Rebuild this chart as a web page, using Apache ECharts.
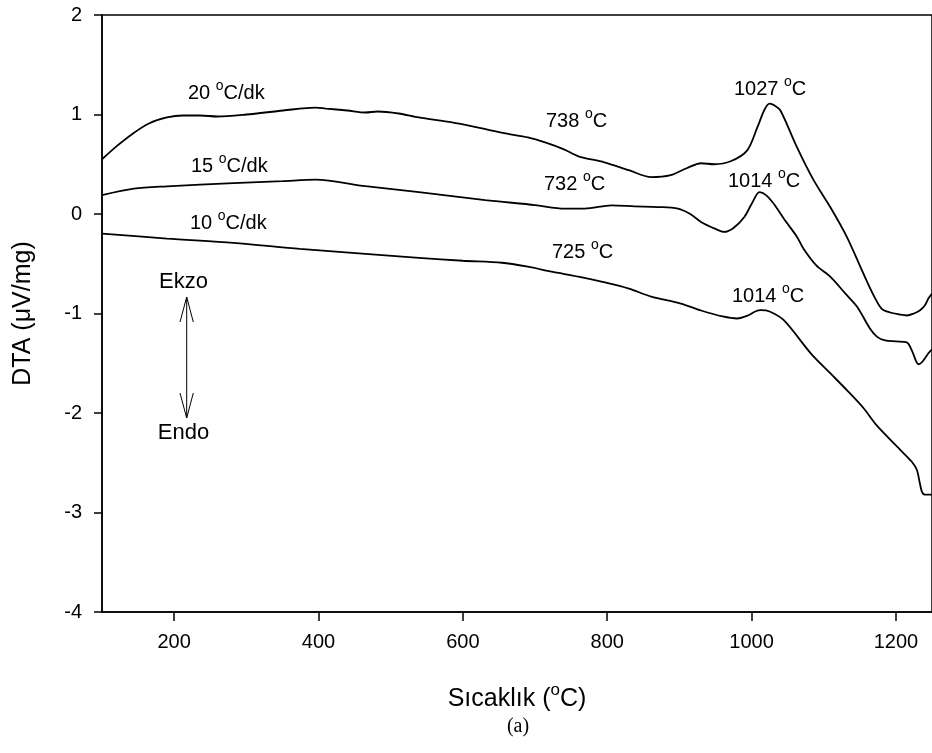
<!DOCTYPE html>
<html>
<head>
<meta charset="utf-8">
<script src="https://cdn.jsdelivr.net/npm/echarts@6/dist/echarts.min.js"></script>
<style>html,body{margin:0;padding:0;background:#fff;}#c{width:932px;height:753px;}</style>
</head>
<body>
<div id="c"></div>
<script>
// Temperature (°C) and DTA (µV/mg)
const t20 = [100,120,143,165,190,212,236,260,300,351,396,410,440,465,482,511,539,585,620,659,690,714,740,760,796,830,861,888,910,930,948,971,994,1008,1018,1025,1032,1040,1063,1086,1109,1132,1155,1170,1180,1192,1205,1215,1225,1233,1240,1245,1250];
const v20 = [0.55,0.68,0.81,0.91,0.97,0.99,0.99,0.98,1.00,1.04,1.07,1.06,1.04,1.02,1.03,1.01,0.97,0.92,0.87,0.81,0.77,0.72,0.65,0.58,0.52,0.44,0.37,0.39,0.46,0.51,0.50,0.53,0.64,0.87,1.05,1.11,1.09,1.04,0.67,0.34,0.07,-0.23,-0.60,-0.83,-0.95,-0.99,-1.01,-1.02,-1.00,-0.97,-0.92,-0.85,-0.80];

const t15 = [100,144,190,282,350,396,465,539,631,700,741,769,806,838,870,898,915,930,950,962,975,990,1000,1011,1020,1031,1045,1063,1072,1090,1109,1130,1146,1164,1174,1185,1200,1215,1222,1228,1231,1236,1245,1250];
const v15 = [0.19,0.255,0.278,0.31,0.33,0.345,0.28,0.22,0.14,0.09,0.054,0.054,0.087,0.077,0.07,0.054,0.0,-0.08,-0.15,-0.18,-0.14,-0.03,0.10,0.22,0.19,0.10,-0.05,-0.23,-0.35,-0.52,-0.63,-0.80,-0.93,-1.15,-1.235,-1.27,-1.28,-1.29,-1.37,-1.48,-1.51,-1.49,-1.40,-1.36];

const t10 = [100,190,282,374,465,539,600,654,690,723,760,792,830,861,902,930,960,980,995,1005,1013,1025,1045,1082,1109,1132,1155,1174,1206,1222,1229,1233,1236,1240,1250];
const v10 = [-0.197,-0.247,-0.29,-0.35,-0.40,-0.44,-0.47,-0.49,-0.53,-0.58,-0.63,-0.68,-0.75,-0.83,-0.90,-0.97,-1.03,-1.05,-1.02,-0.98,-0.967,-0.98,-1.07,-1.40,-1.60,-1.77,-1.95,-2.13,-2.37,-2.49,-2.57,-2.70,-2.79,-2.82,-2.82];

const xTicks = [200,400,600,800,1000,1200];
const yTicks = [-4,-3,-2,-1,0,1,2];

const FONT = 'Liberation Sans, Arial, sans-serif';
const pair = (t, v) => t.map((x, i) => [x, v[i]]);
function ann(text, x, y) {
  return {
    type: 'text', x: x, y: y, z: 100,
    style: {
      text: text, fill: '#000', font: '20px ' + FONT,
      align: 'left', verticalAlign: 'middle', textAlign: 'left', textVerticalAlign: 'middle',
      rich: { s: { fontSize: 14, fontFamily: FONT, fill: '#000', padding: [0, 0, 14, 0] },
              n: { fontSize: 20, fontFamily: FONT, fill: '#000' } }
    }
  };
}
const lineStyle = { color: '#000', width: 1.8 };
const chart = echarts.init(document.getElementById('c'), null, { renderer: 'canvas' });
chart.setOption({
  animation: false,
  backgroundColor: '#fff',
  grid: { left: 102, top: 15, width: 833, height: 597, show: true, borderColor: '#000', borderWidth: 1.5, backgroundColor: 'transparent' },
  xAxis: {
    type: 'value', min: 100, max: 1250,
    name: '{n|Sıcaklık (}{s|o}{n|C)}', nameLocation: 'middle', nameGap: 70,
    nameTextStyle: { fontSize: 25, fontFamily: FONT, color: '#000',
      rich: { n: { fontSize: 25, fontFamily: FONT, color: '#000' },
              s: { fontSize: 17, fontFamily: FONT, color: '#000', padding: [0, 0, 18, 0] } } },
    axisLine: { show: true, onZero: false, lineStyle: { color: '#000', width: 1.5 } },
    axisTick: { show: true, inside: false, length: 9, lineStyle: { color: '#000', width: 1.5 }, customValues: xTicks },
    axisLabel: { color: '#000', fontSize: 20, fontFamily: FONT, margin: 20, customValues: xTicks, formatter: v => String(v) },
    splitLine: { show: false }
  },
  yAxis: {
    type: 'value', min: -4, max: 2, interval: 1,
    name: 'DTA (μV/mg)', nameLocation: 'middle', nameGap: 66, nameRotate: 90,
    nameTextStyle: { fontSize: 25, fontFamily: FONT, color: '#000' },
    axisLine: { show: true, onZero: false, lineStyle: { color: '#000', width: 1.5 } },
    axisTick: { show: true, inside: false, length: 8, lineStyle: { color: '#000', width: 1.5 }, customValues: yTicks },
    axisLabel: { color: '#000', fontSize: 20, fontFamily: FONT, margin: 20, customValues: yTicks, formatter: v => String(v) },
    splitLine: { show: false }
  },
  series: [
    { name: '20', type: 'line', data: pair(t20, v20), showSymbol: false, smooth: 0.3, lineStyle: lineStyle, clip: true },
    { name: '15', type: 'line', data: pair(t15, v15), showSymbol: false, smooth: 0.3, lineStyle: lineStyle, clip: true },
    { name: '10', type: 'line', data: pair(t10, v10), showSymbol: false, smooth: 0.3, lineStyle: lineStyle, clip: true }
  ],
  graphic: [
    ann('{n|20 }{s|o}{n|C/dk}', 188, 93),
    ann('{n|15 }{s|o}{n|C/dk}', 191, 166),
    ann('{n|10 }{s|o}{n|C/dk}', 190, 223),
    ann('{n|738 }{s|o}{n|C}', 546, 121),
    ann('{n|732 }{s|o}{n|C}', 544, 184),
    ann('{n|725 }{s|o}{n|C}', 552, 252),
    ann('{n|1027 }{s|o}{n|C}', 734, 89),
    ann('{n|1014 }{s|o}{n|C}', 728, 181),
    ann('{n|1014 }{s|o}{n|C}', 732, 296),
    { type: 'text', x: 183.5, y: 282, style: { text: 'Ekzo', fill: '#000', font: '22px ' + FONT, align: 'center', verticalAlign: 'middle', textAlign: 'center', textVerticalAlign: 'middle' } },
    { type: 'text', x: 183.5, y: 433, style: { text: 'Endo', fill: '#000', font: '22px ' + FONT, align: 'center', verticalAlign: 'middle', textAlign: 'center', textVerticalAlign: 'middle' } },
    { type: 'line', shape: { x1: 186.7, y1: 297, x2: 186.7, y2: 418 }, style: { stroke: '#000', lineWidth: 1 } },
    { type: 'polyline', shape: { points: [[180, 322], [186.7, 297], [193.3, 322]] }, style: { stroke: '#000', lineWidth: 1, fill: null } },
    { type: 'polyline', shape: { points: [[180, 393], [186.7, 418], [193.3, 393]] }, style: { stroke: '#000', lineWidth: 1, fill: null } },
    { type: 'text', x: 518, y: 727, style: { text: '(a)', fill: '#000', font: '20px Liberation Serif, Times New Roman, serif', align: 'center', verticalAlign: 'middle', textAlign: 'center', textVerticalAlign: 'middle' } }
  ]
});
</script>
</body>
</html>
